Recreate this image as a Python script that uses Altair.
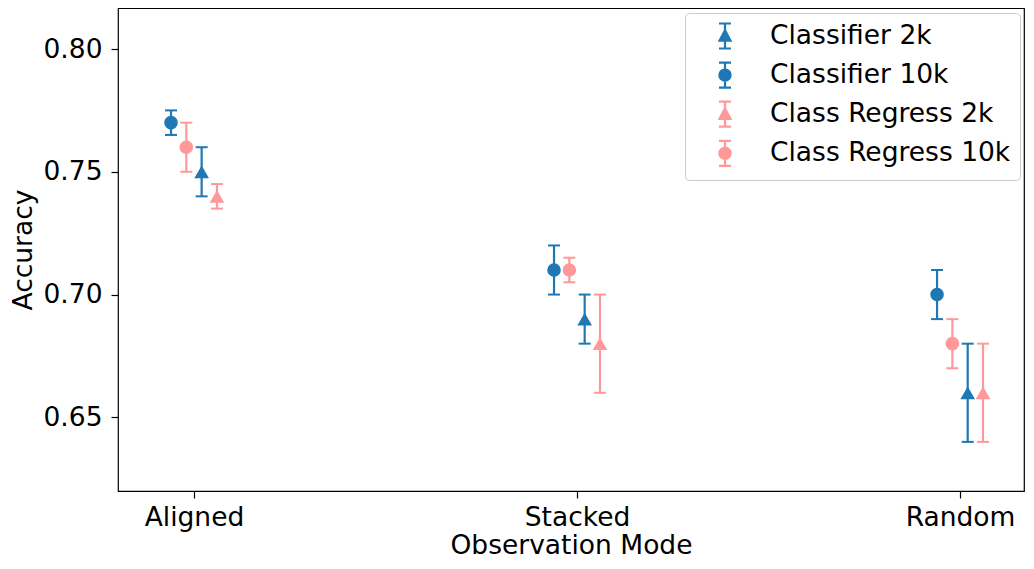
import json
import altair as alt
import pandas as pd

modes = ["Aligned", "Stacked", "Random"]
series = ["Classifier 2k", "Classifier 10k", "Class Regress 2k", "Class Regress 10k"]

classifier_2k_mean = [0.75, 0.69, 0.66]
classifier_2k_err = [0.01, 0.01, 0.02]
classifier_10k_mean = [0.77, 0.71, 0.70]
classifier_10k_err = [0.005, 0.01, 0.01]
class_regress_2k_mean = [0.74, 0.68, 0.66]
class_regress_2k_err = [0.005, 0.02, 0.02]
class_regress_10k_mean = [0.76, 0.71, 0.68]
class_regress_10k_err = [0.01, 0.005, 0.01]

means = [classifier_2k_mean, classifier_10k_mean, class_regress_2k_mean, class_regress_10k_mean]
errs = [classifier_2k_err, classifier_10k_err, class_regress_2k_err, class_regress_10k_err]

colors = ["#1f77b4", "#1f77b4", "#ff9999", "#ff9999"]
marker_shapes = ["triangle-up", "circle", "triangle-up", "circle"]
marker_sizes = [215, 185, 215, 185]
offsets = {"Classifier 10k": -0.06, "Class Regress 10k": -0.02,
           "Classifier 2k": 0.02, "Class Regress 2k": 0.06}

rows = []
for s, m, e in zip(series, means, errs):
    for i, mode in enumerate(modes):
        rows.append({"series": s, "mode": mode, "x": i + offsets[s],
                     "mean": m[i], "lo": m[i] - e[i], "hi": m[i] + e[i]})
df = pd.DataFrame(rows)

FONT = "DejaVu Sans"
FS = 26.5
xscale = alt.Scale(domain=[-0.1984, 2.167], nice=False, zero=False)
yscale = alt.Scale(domain=[0.62, 0.8167], nice=False, zero=False)
cscale = alt.Scale(domain=series, range=colors)

tri_path = "M-0.48,-1H0.48M0,-1V1M-0.48,1H0.48M0,-0.46L0.44,0.38L-0.44,0.38Z"
circ_path = ("M-0.48,-1H0.48M0,-1V1M-0.48,1H0.48"
             "M0.45,0A0.45,0.45,0,1,1,-0.45,0A0.45,0.45,0,1,1,0.45,0Z")
shape_scale = alt.Scale(domain=series, range=[tri_path, circ_path, tri_path, circ_path])

label_expr = json.dumps(modes) + "[datum.value]"

x_enc = alt.X("x:Q", scale=xscale,
              axis=alt.Axis(values=[0, 1, 2], labelExpr=label_expr, title="Observation Mode",
                            labelPadding=6, titlePadding=2))
y_axis = alt.Axis(values=[0.65, 0.70, 0.75, 0.80], format=".2f", title="Accuracy",
                  labelPadding=9, titlePadding=5)

base = alt.Chart(df)
layers = []
for s, col, shp, sz in zip(series, colors, marker_shapes, marker_sizes):
    sub = base.transform_filter(alt.datum.series == s)
    layers.append(sub.mark_rule(strokeWidth=2.2, opacity=1, color=col).encode(
        x=x_enc, y=alt.Y("lo:Q", scale=yscale, axis=y_axis), y2="hi:Q"))
    layers.append(sub.mark_tick(orient="horizontal", size=12, thickness=2, opacity=1, color=col).encode(
        x="x:Q", y="hi:Q"))
    layers.append(sub.mark_tick(orient="horizontal", size=12, thickness=2, opacity=1, color=col).encode(
        x="x:Q", y="lo:Q"))
for s, col, shp, sz in zip(series, colors, marker_shapes, marker_sizes):
    sub = base.transform_filter(alt.datum.series == s)
    layers.append(sub.mark_point(shape=shp, filled=True, size=sz, opacity=1, color=col).encode(
        x="x:Q", y="mean:Q"))

legend = alt.Legend(
    title=None, orient="none", legendX=567, legendY=5,
    symbolSize=625, symbolStrokeWidth=2.2, symbolOpacity=1,
    symbolOffset=17, labelOffset=31, rowPadding=5.1, padding=9,
    labelFontSize=FS, labelFont=FONT, labelColor="black", labelLimit=500,
    strokeColor="#cccccc", cornerRadius=4, fillColor="white",
)
leg_layer = base.mark_point(filled=True, size=625, opacity=0, strokeWidth=2.2).encode(
    x="x:Q", y="mean:Q",
    color=alt.Color("series:N", scale=cscale, legend=legend),
    stroke=alt.Stroke("series:N", scale=cscale, legend=legend),
    shape=alt.Shape("series:N", scale=shape_scale, legend=legend),
)
layers.append(leg_layer)

chart = alt.layer(*layers).properties(
    width=906, height=483,
    autosize=alt.AutoSizeParams(type="none"),
    padding={"left": 110, "top": 0, "right": 1, "bottom": 70},
).configure(font=FONT).configure_view(
    stroke="black", strokeWidth=1.2
).configure_axis(
    grid=False, domain=False, ticks=True, tickColor="black", tickSize=7, tickWidth=1.2,
    labelFontSize=FS, labelFont=FONT, labelColor="black",
    titleFontSize=FS, titleFont=FONT, titleColor="black", titleFontWeight="normal",
)

chart.save("out.html", embed_options={"renderer": "svg", "actions": False})
